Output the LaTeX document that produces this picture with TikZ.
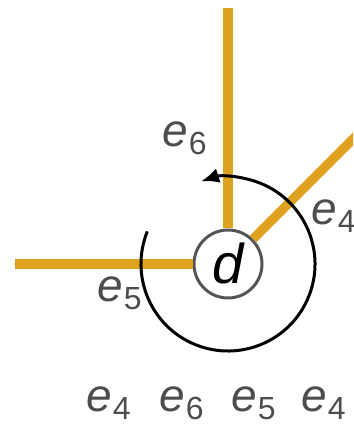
\documentclass[tikz,border=0pt]{standalone}
\usepackage{fontspec}
\setmainfont{Liberation Sans}
\usetikzlibrary{arrows.meta}
\definecolor{edgeor}{HTML}{DFA120}
\definecolor{labgray}{HTML}{4D4D4D}
\definecolor{ringgray}{HTML}{555555}
\newcommand{\elab}[1]{{\fontsize{46}{46}\selectfont\itshape e}\kern1pt\raisebox{-8pt}{\fontsize{32}{32}\selectfont #1}}
\tikzset{
  edgeline/.style={draw=edgeor, line width=9.5pt},
  vert/.style={circle, draw=ringgray, line width=3pt, fill=white, minimum size=68pt, inner sep=0pt, font=\fontsize{56}{56}\selectfont\itshape},
  elabel/.style={anchor=base west, inner sep=0pt, text=labgray}
}
\begin{document}
\begin{tikzpicture}[x=1pt,y=1pt]
\useasboundingbox (0,0) rectangle (353,427);
\clip (0,0) rectangle (353,427);
\coordinate (c) at (228,163);
\coordinate (top) at (228,419);
\coordinate (left) at (15,163);
\coordinate (diag) at (390,325);
\node[vert] (d) at (c) {d};
\draw[edgeline] (d) -- (top);
\draw[edgeline] (d) -- (left);
\draw[edgeline] (d) -- (diag);
\draw[line width=3pt, -{Latex[length=18pt,width=15pt]}] ([shift={(158:87)}]c) arc[start angle=158, end angle=468, radius=87];
\node[elabel] (l6) at (162,280) {\elab{6}};
\node[elabel] (l4r) at (311,202) {\elab{4}};
\node[elabel] (l5) at (97,125) {\elab{5}};
\node[elabel] (b1) at (86,15) {\elab{4}};
\node[elabel] (b2) at (159,15) {\elab{6}};
\node[elabel] (b3) at (231,15) {\elab{5}};
\node[elabel] (b4) at (301,15) {\elab{4}};
\end{tikzpicture}
\end{document}
